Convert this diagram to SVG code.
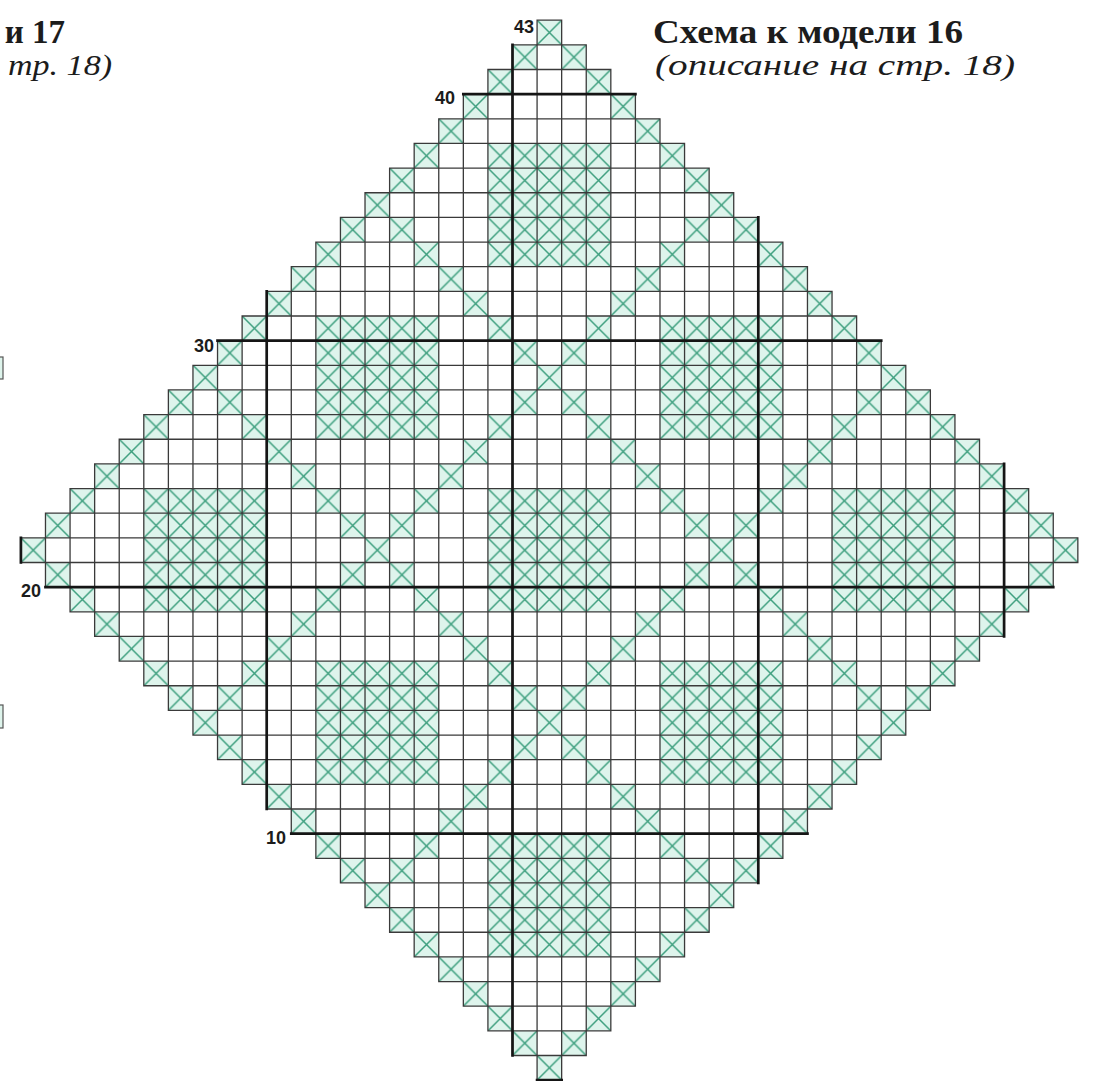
<svg xmlns="http://www.w3.org/2000/svg" width="1100" height="1081" viewBox="0 0 1100 1081">
<style>
.t{font-family:"Liberation Serif","Times New Roman",serif;font-weight:bold;font-size:33px;fill:#1c1c1c}
.s{font-family:"Liberation Serif","Times New Roman",serif;font-style:italic;font-size:29px;fill:#1c1c1c}
.n{font-family:"Liberation Sans Narrow","Liberation Sans",Arial,sans-serif;font-weight:bold;font-size:18px;fill:#1c1c1c}
.grid{fill:none;stroke:#3a3a3a;stroke-width:1.3;stroke-linecap:square}
.thick{fill:none;stroke:#151515;stroke-width:2.7;stroke-linecap:square}
</style>
<defs>
<pattern id="xp" patternUnits="userSpaceOnUse" x="0" y="0" width="1" height="1">
<rect width="1" height="1" fill="#def4ec"/>
<path d="M0 0L1 1M1 0L0 1" stroke="#3c9e7d" stroke-width="0.06" fill="none"/>
</pattern>
</defs>
<rect width="1100" height="1081" fill="#ffffff"/>
<g id="neighbour-cut">
<rect x="-20" y="357" width="23" height="22" fill="#def4ec" stroke="#555" stroke-width="1.2"/>
<rect x="-20" y="705" width="23" height="23" fill="#def4ec" stroke="#555" stroke-width="1.2"/>
</g>
<g id="chart" transform="translate(20.9 20.2) scale(24.58 24.65)">
<path id="xcells" fill="url(#xp)" d="
M21 0h1v1h-1z
m-1 1h1v1h-1z m-1 1h1v1h-1z m-1 1h1v1h-1z m-1 1h1v1h-1z m-1 1h1v1h-1z m-1 1h1v1h-1z m-1 1h1v1h-1z
m-1 1h1v1h-1z m-1 1h1v1h-1z m-1 1h1v1h-1z m-1 1h1v1h-1z m-1 1h1v1h-1z m-1 1h1v1h-1z m-1 1h1v1h-1z
m-1 1h1v1h-1z m-1 1h1v1h-1z m-1 1h1v1h-1z m-1 1h1v1h-1z m-1 1h1v1h-1z m-1 1h1v1h-1z m-1 1h1v1h-1z
M22 1h1v1h-1z
m1 1h1v1h-1z m1 1h1v1h-1z m1 1h1v1h-1z m1 1h1v1h-1z m1 1h1v1h-1z
m1 1h1v1h-1z m1 1h1v1h-1z m1 1h1v1h-1z m1 1h1v1h-1z m1 1h1v1h-1z
m1 1h1v1h-1z m1 1h1v1h-1z m1 1h1v1h-1z m1 1h1v1h-1z m1 1h1v1h-1z
m1 1h1v1h-1z m1 1h1v1h-1z m1 1h1v1h-1z m1 1h1v1h-1z m1 1h1v1h-1z
M1 22h1v1h-1z
m1 1h1v1h-1z m1 1h1v1h-1z m1 1h1v1h-1z m1 1h1v1h-1z m1 1h1v1h-1z
m1 1h1v1h-1z m1 1h1v1h-1z m1 1h1v1h-1z m1 1h1v1h-1z m1 1h1v1h-1z
m1 1h1v1h-1z m1 1h1v1h-1z m1 1h1v1h-1z m1 1h1v1h-1z m1 1h1v1h-1z
m1 1h1v1h-1z m1 1h1v1h-1z m1 1h1v1h-1z m1 1h1v1h-1z m1 1h1v1h-1z
M41 22h1v1h-1z
m-1 1h1v1h-1z m-1 1h1v1h-1z m-1 1h1v1h-1z m-1 1h1v1h-1z m-1 1h1v1h-1z m-1 1h1v1h-1z m-1 1h1v1h-1z
m-1 1h1v1h-1z m-1 1h1v1h-1z m-1 1h1v1h-1z m-1 1h1v1h-1z m-1 1h1v1h-1z m-1 1h1v1h-1z m-1 1h1v1h-1z
m-1 1h1v1h-1z m-1 1h1v1h-1z m-1 1h1v1h-1z m-1 1h1v1h-1z m-1 1h1v1h-1z
M15 8h1v1h-1z
m1 1h1v1h-1z m1 1h1v1h-1z m1 1h1v1h-1z m1 1h1v1h-1z m1 1h1v1h-1z
m1 1h1v1h-1z m1 1h1v1h-1z m1 1h1v1h-1z m1 1h1v1h-1z m1 1h1v1h-1z
m1 1h1v1h-1z m1 1h1v1h-1z m1 1h1v1h-1z m1 1h1v1h-1z m1 1h1v1h-1z
m1 1h1v1h-1z m1 1h1v1h-1z m1 1h1v1h-1z m1 1h1v1h-1z
M8 15h1v1h-1z
m1 1h1v1h-1z m1 1h1v1h-1z m1 1h1v1h-1z m1 1h1v1h-1z m1 1h1v1h-1z
m1 1h1v1h-1z m1 1h1v1h-1z m1 1h1v1h-1z m1 1h1v1h-1z m1 1h1v1h-1z
m1 1h1v1h-1z m1 1h1v1h-1z m1 1h1v1h-1z m1 1h1v1h-1z m1 1h1v1h-1z
m1 1h1v1h-1z m1 1h1v1h-1z m1 1h1v1h-1z m1 1h1v1h-1z
M27 8h1v1h-1z
m-1 1h1v1h-1z m-1 1h1v1h-1z m-1 1h1v1h-1z m-1 1h1v1h-1z m-1 1h1v1h-1z m-1 1h1v1h-1z m-1 1h1v1h-1z
m-1 1h1v1h-1z m-1 1h1v1h-1z m-1 1h1v1h-1z m-1 1h1v1h-1z m-1 1h1v1h-1z m-1 1h1v1h-1z m-1 1h1v1h-1z
m-1 1h1v1h-1z m-1 1h1v1h-1z m-1 1h1v1h-1z m-1 1h1v1h-1z m-1 1h1v1h-1z
M34 15h1v1h-1z
m-1 1h1v1h-1z m-1 1h1v1h-1z m-1 1h1v1h-1z m-1 1h1v1h-1z m-1 1h1v1h-1z m-1 1h1v1h-1z m-1 1h1v1h-1z
m-1 1h1v1h-1z m-1 1h1v1h-1z m-1 1h1v1h-1z m-1 1h1v1h-1z m-1 1h1v1h-1z m-1 1h1v1h-1z m-1 1h1v1h-1z
m-1 1h1v1h-1z m-1 1h1v1h-1z m-1 1h1v1h-1z m-1 1h1v1h-1z m-1 1h1v1h-1z
M19 5h5v5h-5z M12 12h5v5h-5z M26 12h5v5h-5z M5 19h5v5h-5z M19 19h5v5h-5z M33 19h5v5h-5z M12 26h5v5h-5z M26 26h5v5h-5z M19 33h5v5h-5z"/>
<path id="gridlines" class="grid" vector-effect="non-scaling-stroke" d="M21 0H22M20 1H23M19 2H24M18 3H25M17 4H26M16 5H27M15 6H28M14 7H29M13 8H30M12 9H31M11 10H32M10 11H33M9 12H34M8 13H35M7 14H36M6 15H37M5 16H38M4 17H39M3 18H40M2 19H41M1 20H42M0 21H43M0 22H43M1 23H42M2 24H41M3 25H40M4 26H39M5 27H38M6 28H37M7 29H36M8 30H35M9 31H34M10 32H33M11 33H32M12 34H31M13 35H30M14 36H29M15 37H28M16 38H27M17 39H26M18 40H25M19 41H24M20 42H23M21 43H22 M0 21V22M1 20V23M2 19V24M3 18V25M4 17V26M5 16V27M6 15V28M7 14V29M8 13V30M9 12V31M10 11V32M11 10V33M12 9V34M13 8V35M14 7V36M15 6V37M16 5V38M17 4V39M18 3V40M19 2V41M20 1V42M21 0V43M22 0V43M23 1V42M24 2V41M25 3V40M26 4V39M27 5V38M28 6V37M29 7V36M30 8V35M31 9V34M32 10V33M33 11V32M34 12V31M35 13V30M36 14V29M37 15V28M38 16V27M39 17V26M40 18V25M41 19V24M42 20V23M43 21V22"/>
<path id="tenlines" class="thick" vector-effect="non-scaling-stroke" d="M0 21V22M10 11V32M20 1V42M30 8V35M40 18V25M18 3H25M8 13H35M1 23H42M11 33H32M21 43H22"/>
</g>
<g id="row-labels">
<text class="n" x="534" y="33" text-anchor="end">43</text>
<text class="n" x="455" y="104" text-anchor="end">40</text>
<text class="n" x="214" y="352" text-anchor="end">30</text>
<text class="n" x="41" y="597" text-anchor="end">20</text>
<text class="n" x="286" y="844" text-anchor="end">10</text>
</g>
<g id="titles">
<text class="t" x="653" y="43" textLength="310" lengthAdjust="spacingAndGlyphs">Схема к модели 16</text>
<text class="s" x="655" y="75" textLength="360" lengthAdjust="spacingAndGlyphs">(описание на стр. 18)</text>
<text class="t" x="65" y="43" text-anchor="end">и 17</text>
<text class="s" x="112" y="75" text-anchor="end" textLength="104" lengthAdjust="spacingAndGlyphs">тр. 18)</text>
</g>
</svg>
